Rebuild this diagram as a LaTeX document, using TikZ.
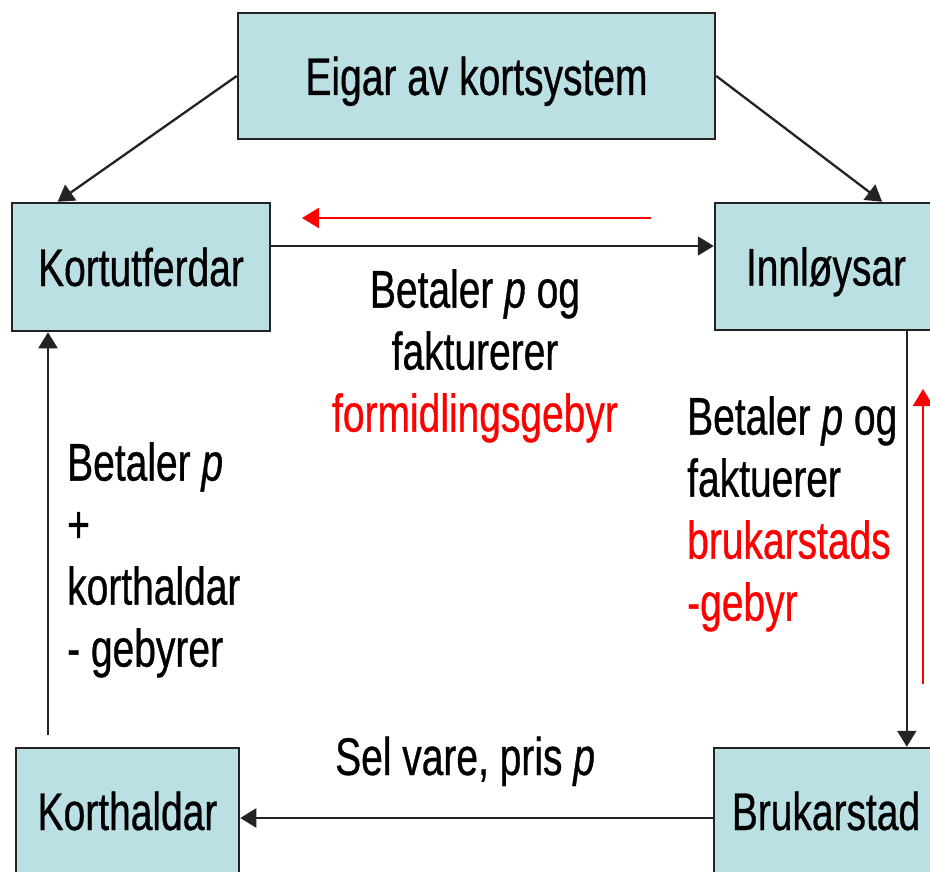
\documentclass[tikz,border=0pt]{standalone}
\usepackage{fontspec}
\setmainfont{Liberation Sans}[FakeStretch=0.735,FakeBold=0.6]
\usetikzlibrary{arrows.meta,calc}
\definecolor{boxfill}{RGB}{187,224,228}
\definecolor{boxline}{RGB}{35,35,35}
\definecolor{fred}{RGB}{255,0,0}
\begin{document}
\begin{tikzpicture}[x=1pt,y=-1pt,
  agent/.style={draw=boxline,line width=2.5pt,fill=boxfill,inner sep=0pt,
    text height=38pt,text depth=0pt,font=\fontsize{53}{62}\selectfont},
  lbl/.style={inner sep=0pt,font=\fontsize{53}{62}\selectfont},
  flow/.style={draw=boxline,line width=2.3pt,-{Triangle[length=16pt,width=19pt]}},
  redflow/.style={draw=fred,line width=2.5pt,-{Triangle[length=17pt,width=20pt]}}]
\clip (0,0) rectangle (930,872);
\fill[white] (0,0) rectangle (930,872);
% boxes
\node[agent,minimum width=477pt,minimum height=126pt] (eigar) at (476.5,76) {Eigar av kortsystem};
\node[agent,minimum width=258pt,minimum height=128pt] (kortutf) at (141,267) {Kortutferdar};
\node[agent,minimum width=222pt,minimum height=127pt] (innl) at (826,266.5) {Innløysar};
\node[agent,minimum width=223pt,minimum height=126pt] (korthaldar) at (127.5,811) {Korthaldar};
\node[agent,minimum width=224pt,minimum height=126pt] (bruk) at (826,811) {Brukarstad};
% connectors
\draw[flow] (eigar.west) -- ($(kortutf.north west)!0.18!(kortutf.north east)$);
\draw[flow] (eigar.east) -- ($(innl.north west)!0.75!(innl.north east)$);
\draw[flow] ([yshift=21pt]kortutf.east) -- ([yshift=21pt]kortutf.east -| innl.west);
\coordinate (r1s) at (651,218);
\coordinate (r1e) at (302,218);
\draw[redflow] (r1s) -- (r1e);
\coordinate (vtop) at ($(innl.south west)!0.86!(innl.south east)$);
\draw[flow] (vtop) -- (vtop |- bruk.north);
\coordinate (r2s) at (923,684);
\coordinate (r2e) at (923,389);
\draw[redflow] (r2s) -- (r2e);
\draw[flow] ([yshift=-7pt]bruk.west) -- ([yshift=-7pt]bruk.west -| korthaldar.east);
\coordinate (lstart) at (48,735);
\draw[flow] (lstart) -- (lstart |- kortutf.south);
% labels
\node[lbl,align=center,anchor=north] (midlbl) at (475,269)
  {Betaler \textit{p} og\\fakturerer\\\textcolor{fred}{formidlingsgebyr}};
\node[lbl,align=left,anchor=north west] (rightlbl) at (687,396)
  {Betaler \textit{p} og\\faktuerer\\\textcolor{fred}{brukarstads}\\\textcolor{fred}{-gebyr}};
\node[lbl,align=left,anchor=north west] (leftlbl) at (67,442)
  {Betaler \textit{p}\\+\\korthaldar\\- gebyrer};
\node[lbl,anchor=base west] (sellbl) at (335,775) {Sel vare, pris \textit{p}};
\end{tikzpicture}
\end{document}
